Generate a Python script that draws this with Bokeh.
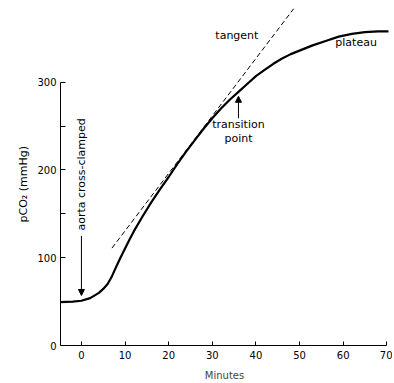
from math import pi
from bokeh.plotting import figure
from bokeh.models import Range1d, FixedTicker, Label, Arrow, NormalHead, Title
from bokeh.embed import file_html
from bokeh.resources import INLINE

# ---- data ----
minutes = [-5, -2, 0, 2, 4, 5, 6, 7, 8, 9, 10, 11, 12, 14, 16, 18, 20, 22, 24,
           26, 28, 30, 32, 34, 36, 38, 40, 42, 44, 46, 48, 50, 53, 56, 59, 62,
           65, 68, 70.5]
pco2 = [49.5, 50, 51, 54, 60, 64.5, 70, 79, 90, 100.5, 110.5, 120.5, 130, 147,
        163, 178, 192, 207, 221, 234, 247, 259, 270, 280, 289, 298, 307, 314,
        321, 327, 332, 336, 342, 347, 352, 355, 357, 358, 358]

tangent_minutes = [7, 48.7]
tangent_pco2 = [111, 384]

x_ticks = [0, 10, 20, 30, 40, 50, 60, 70]
y_ticks = [0, 100, 200, 300]
y_minor_ticks = [50, 150, 250]

FONT = "DejaVu Sans"

p = figure(width=392, height=383,
           x_range=Range1d(-4.8, 70.4), y_range=Range1d(0, 384),
           output_backend="svg", toolbar_location=None,
           min_border_left=60, min_border_right=4,
           min_border_top=8, min_border_bottom=37)
p.outline_line_color = None
p.grid.visible = False

# axes
xa = p.xaxis[0]
xa.ticker = FixedTicker(ticks=x_ticks)
xa.bounds = (-4.8, 70)
xa.major_tick_in = 4
xa.major_tick_out = 0
xa.major_label_standoff = 5
xa.axis_label = "Minutes"
xa.axis_label_standoff = 8
xa.axis_label_text_font = FONT
xa.axis_label_text_font_size = "10px"
xa.axis_label_text_font_style = "normal"
xa.major_label_text_font = FONT
xa.major_label_text_font_size = "10px"

ya = p.yaxis[0]
ya.ticker = FixedTicker(ticks=y_ticks, minor_ticks=y_minor_ticks)
ya.bounds = (0, 300)
ya.major_tick_in = 5
ya.major_tick_out = 0
ya.minor_tick_in = 5
ya.minor_tick_out = 0
ya.major_label_standoff = 4
ya.major_label_text_font = FONT
ya.major_label_text_font_size = "10px"

for a in (xa, ya):
    a.axis_line_color = "black"
    a.major_tick_line_color = "black"
    a.minor_tick_line_color = "black" if a is ya else None
    a.major_label_text_color = "black"

# y axis title, placed lower than centre like the reference
p.add_layout(Title(text="pCO₂ (mmHg)", align="left", offset=123,
                   text_font=FONT, text_font_size="11px",
                   text_font_style="normal", text_color="black"), "left")

# curve and tangent
p.line(minutes, pco2, line_color="black", line_width=2.2)
p.line(tangent_minutes, tangent_pco2, line_color="black", line_width=1,
       line_dash="5 3")

# annotations
txt = dict(text_font=FONT, text_font_size="11px", text_color="black")
p.add_layout(Label(x=0, y=131, text="aorta cross-clamped", angle=pi / 2,
                   text_align="left", text_baseline="middle", **txt))
p.add_layout(Arrow(x_start=0, y_start=125, x_end=0, y_end=57,
                   line_width=1, line_color="black",
                   end=NormalHead(size=6, fill_color="black", line_color="black")))

p.add_layout(Label(x=30.7, y=353, text="tangent", text_align="left",
                   text_baseline="middle", **txt))
p.add_layout(Label(x=58.2, y=345, text="plateau", text_align="left",
                   text_baseline="middle", **txt))
p.add_layout(Label(x=36, y=252, text="transition", text_align="center",
                   text_baseline="middle", **txt))
p.add_layout(Label(x=36, y=236, text="point", text_align="center",
                   text_baseline="middle", **txt))
p.add_layout(Arrow(x_start=36, y_start=259, x_end=36, y_end=284,
                   line_width=1, line_color="black",
                   end=NormalHead(size=6, fill_color="black", line_color="black")))

open("out.html", "w").write(file_html(p, INLINE))
